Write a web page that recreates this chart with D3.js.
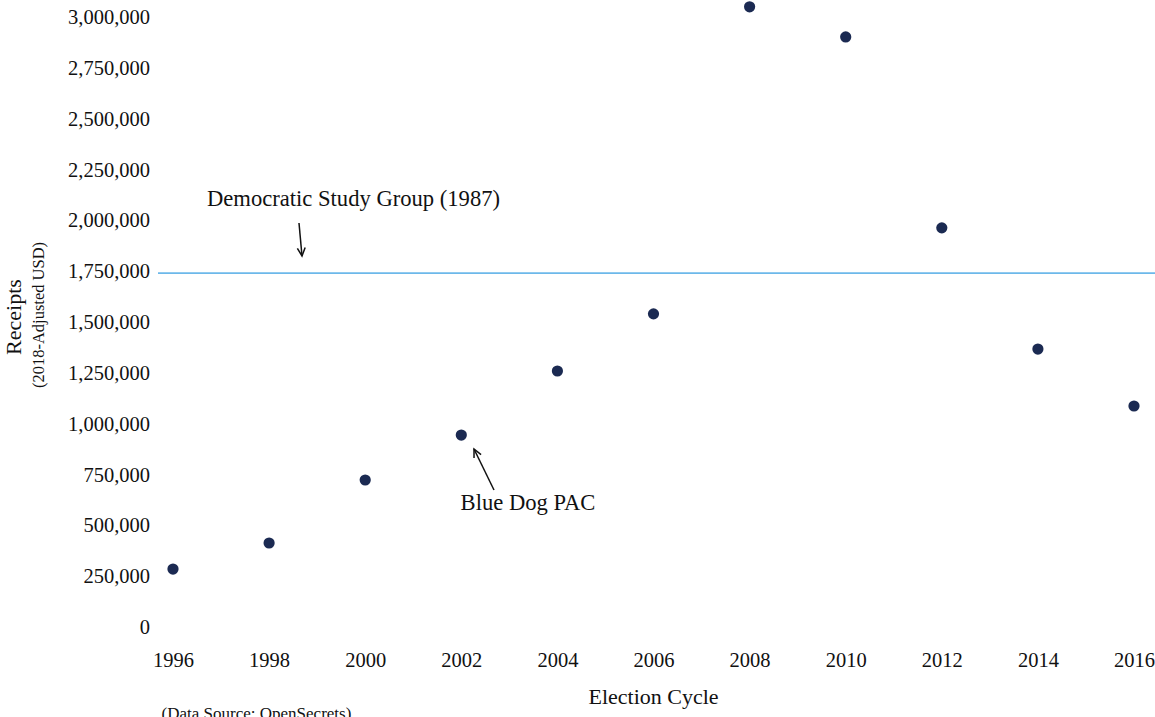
<!DOCTYPE html>
<html>
<head>
<meta charset="utf-8">
<script src="https://cdn.jsdelivr.net/npm/d3@7"></script>
<style>
html,body{margin:0;padding:0;background:#fff;}
svg{display:block;}
text{font-family:"Liberation Serif","Times New Roman",serif;fill:#111;}
</style>
</head>
<body>
<script>
const years = [1996,1998,2000,2002,2004,2006,2008,2010,2012,2014,2016];
const receipts = [285000,413000,723000,944000,1259000,1540000,3050000,2902000,1963000,1367000,1087000];
const yTicks = [0,250000,500000,750000,1000000,1250000,1500000,1750000,2000000,2250000,2500000,2750000,3000000];
const xTicks = [1996,1998,2000,2002,2004,2006,2008,2010,2012,2014,2016];
const dsgValue = [1740000];

const W = 1155, H = 717;
const svg = d3.select("body").append("svg").attr("width", W).attr("height", H);

const x = d3.scaleLinear().domain([1996, 2016]).range([173, 1134]);
const y = d3.scaleLinear().domain([0, 3000000]).range([627, 17]);

const fmt = d3.format(",");

// y axis labels
const yAxis = d3.axisLeft(y).tickValues(yTicks).tickFormat(fmt).tickSize(0).tickPadding(0);
const gy = svg.append("g").attr("transform", "translate(150,0)").call(yAxis);
gy.select(".domain").remove();
gy.selectAll("text").style("font-size", "20.5px").attr("fill", "#111")
  .style("font-family", '"Liberation Serif",serif').attr("dy", "0.32em");

// x axis labels
const xAxis = d3.axisBottom(x).tickValues(xTicks).tickFormat(d3.format("d")).tickSize(0).tickPadding(0);
const gx = svg.append("g").attr("transform", "translate(0,652)").call(xAxis);
gx.select(".domain").remove();
gx.selectAll("text").style("font-size", "20.5px").attr("fill", "#111")
  .style("font-family", '"Liberation Serif",serif');

// reference line
svg.selectAll(".ref").data(dsgValue).enter().append("line")
  .attr("x1", 158).attr("x2", W)
  .attr("y1", d => y(d)).attr("y2", d => y(d))
  .attr("stroke", "#6cb8ea").attr("stroke-width", 1.8);

// points
svg.selectAll(".pt").data(years).enter().append("circle")
  .attr("cx", d => x(d))
  .attr("cy", (d, i) => y(receipts[i]))
  .attr("r", 5.6)
  .attr("fill", "#1b2a52");

function arrow(x1, y1, x2, y2) {
  svg.append("line").attr("x1", x1).attr("y1", y1).attr("x2", x2).attr("y2", y2)
    .attr("stroke", "#111").attr("stroke-width", 1.5);
  const ang = Math.atan2(y2 - y1, x2 - x1);
  const L = 9, a = 0.45;
  const p1 = [x2 - L * Math.cos(ang - a), y2 - L * Math.sin(ang - a)];
  const p2 = [x2 - L * Math.cos(ang + a), y2 - L * Math.sin(ang + a)];
  svg.append("path").attr("d", `M${p1[0]},${p1[1]}L${x2},${y2}L${p2[0]},${p2[1]}`)
    .attr("fill", "none").attr("stroke", "#111").attr("stroke-width", 1.5);
}

// annotations
svg.append("text").attr("x", 353.5).attr("y", 206).attr("text-anchor", "middle")
  .style("font-size", "22.6px").text("Democratic Study Group (1987)");
arrow(299, 223, 302, 256);

svg.append("text").attr("x", 528).attr("y", 510).attr("text-anchor", "middle")
  .style("font-size", "22.6px").text("Blue Dog PAC");
arrow(494, 490, 474, 449);

// axis titles
svg.append("text").attr("transform", "translate(21,317) rotate(-90)").attr("text-anchor", "middle")
  .style("font-size", "22px").text("Receipts");
svg.append("text").attr("transform", "translate(44,315) rotate(-90)").attr("text-anchor", "middle")
  .style("font-size", "16.5px").text("(2018-Adjusted USD)");
svg.append("text").attr("x", 653.5).attr("y", 704).attr("text-anchor", "middle")
  .style("font-size", "22px").text("Election Cycle");
svg.append("text").attr("x", 256.5).attr("y", 719).attr("text-anchor", "middle")
  .style("font-size", "17px").text("(Data Source: OpenSecrets)");
</script>
</body>
</html>
